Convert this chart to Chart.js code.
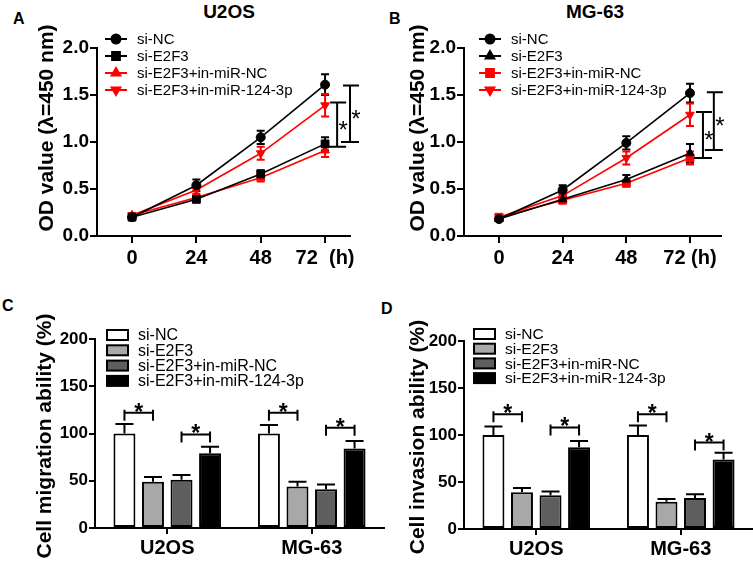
<!DOCTYPE html>
<html>
<head>
<title>E2F3 / miR-124-3p CCK-8 and transwell</title>
<script src="https://cdn.jsdelivr.net/npm/chart.js@4.4.1/dist/chart.umd.min.js"></script>
<style>
body { margin:0; background:#fff; width:753px; height:564px; position:relative; overflow:hidden; font-family:'Liberation Sans', Arial, sans-serif; }
canvas { position:absolute; }
.tag { position:absolute; font-weight:bold; font-size:16px; line-height:16px; }
.head { position:absolute; font-weight:bold; font-size:19px; line-height:19px; text-align:center; width:120px; }
</style>
</head>
<body>
<div class="tag" style="left:13px;top:11px">A</div>
<div class="tag" style="left:389px;top:11px">B</div>
<div class="tag" style="left:2px;top:298px">C</div>
<div class="tag" style="left:381px;top:301px">D</div>
<div class="head" style="left:169px;top:2px">U2OS</div>
<div class="head" style="left:535px;top:2px">MG-63</div>
<canvas id="cA" width="376" height="282" style="left:0;top:0"></canvas>
<canvas id="cB" width="377" height="282" style="left:376px;top:0"></canvas>
<canvas id="cC" width="390" height="282" style="left:0;top:282px"></canvas>
<canvas id="cD" width="377" height="282" style="left:376px;top:282px"></canvas>
<script>
// ---- data ----
var hours = [0, 24, 48, 72];
var hourTicksA = ['0', '24', '48', '72  (h)'];
var hourTicksB = ['0', '24', '48', '72 (h)'];
var groups = ['si-NC', 'si-E2F3', 'si-E2F3+in-miR-NC', 'si-E2F3+in-miR-124-3p'];
var cells = ['U2OS', 'MG-63'];

// A: U2OS OD450
var odU2osNC = [0.20, 0.54, 1.05, 1.61];
var odU2osNCErr = [0.02, 0.06, 0.07, 0.11];
var odU2osE2F3 = [0.20, 0.39, 0.66, 0.98];
var odU2osE2F3Err = [0.02, 0.03, 0.04, 0.07];
var odU2osMiNC = [0.22, 0.41, 0.62, 0.91];
var odU2osMiNCErr = [0.02, 0.03, 0.04, 0.07];
var odU2os124 = [0.22, 0.49, 0.88, 1.39];
var odU2os124Err = [0.02, 0.04, 0.07, 0.12];
var sigA = [{ x: 76.5, lo: 0.95, hi: 1.42 }, { x: 81.3, lo: 1.0, hi: 1.6 }];

// B: MG-63 OD450
var odMgNC = [0.18, 0.49, 0.99, 1.52];
var odMgNCErr = [0.02, 0.05, 0.07, 0.10];
var odMgE2F3 = [0.18, 0.39, 0.60, 0.88];
var odMgE2F3Err = [0.02, 0.03, 0.05, 0.10];
var odMgMiNC = [0.20, 0.38, 0.56, 0.83];
var odMgMiNCErr = [0.02, 0.03, 0.03, 0.07];
var odMg124 = [0.20, 0.43, 0.83, 1.29];
var odMg124Err = [0.02, 0.04, 0.07, 0.12];
var sigB = [{ x: 76.9, lo: 0.83, hi: 1.32 }, { x: 81.0, lo: 0.915, hi: 1.53 }];

// C: migration (%), per group: [U2OS, MG-63]
var migNC = [100, 100], migNCErr = [10, 9];
var migE2F3 = [49, 44], migE2F3Err = [5, 5];
var migMiNC = [51, 41], migMiNCErr = [5, 5];
var mig124 = [79, 84], mig124Err = [7, 8];
var sigC = [{ cat: 0, a: 0, b: 1, v: 122 }, { cat: 0, a: 2, b: 3, v: 99 }, { cat: 1, a: 0, b: 1, v: 122 }, { cat: 1, a: 2, b: 3, v: 106 }];

// D: invasion (%)
var invNC = [100, 100], invNCErr = [9, 10];
var invE2F3 = [39, 29], invE2F3Err = [4.5, 3];
var invMiNC = [36, 33], invMiNCErr = [4, 4];
var inv124 = [87, 74], inv124Err = [6.5, 7];
var sigD = [{ cat: 0, a: 0, b: 1, v: 122 }, { cat: 0, a: 2, b: 3, v: 108 }, { cat: 1, a: 0, b: 1, v: 122 }, { cat: 1, a: 2, b: 3, v: 92 }];

var FONT = "'Liberation Sans', Arial, sans-serif";
Chart.defaults.font.family = FONT;
Chart.defaults.color = '#000';

// error bars, axis title, legend and significance brackets
function drawErrors(chart, o) {
  var ctx = chart.ctx, ys = chart.scales.y;
  chart.data.datasets.forEach(function (ds, i) {
    var meta = chart.getDatasetMeta(i);
    ctx.save();
    ctx.strokeStyle = o.kind === 'bar' ? '#000' : ds.borderColor;
    ctx.lineWidth = 2;
    meta.data.forEach(function (el, j) {
      var raw = ds.data[j];
      var v = typeof raw === 'object' ? raw.y : raw;
      var e = ds.errors[j];
      var top = ys.getPixelForValue(v + e);
      var bot = o.kind === 'bar' ? el.y : ys.getPixelForValue(v - e);
      ctx.beginPath();
      ctx.moveTo(el.x, top); ctx.lineTo(el.x, bot);
      ctx.moveTo(el.x - o.cap, top); ctx.lineTo(el.x + o.cap, top);
      if (o.kind !== 'bar') { ctx.moveTo(el.x - o.cap, bot); ctx.lineTo(el.x + o.cap, bot); }
      ctx.stroke();
    });
    ctx.restore();
  });
}

var decor = {
  id: 'decor',
  beforeDatasetsDraw: function (chart, args, o) {
    if (o.kind === 'line') drawErrors(chart, o);
  },
  afterDatasetsDraw: function (chart, args, o) {
    if (o.kind === 'bar') drawErrors(chart, o);
  },
  afterDraw: function (chart, args, o) {
    var ctx = chart.ctx, xs = chart.scales.x, ys = chart.scales.y;
    ctx.save();
    // y title
    ctx.save();
    ctx.translate(o.titleX, o.titleY);
    ctx.rotate(-Math.PI / 2);
    ctx.textAlign = 'center';
    ctx.textBaseline = 'middle';
    ctx.font = 'bold 21px ' + FONT;
    ctx.fillStyle = '#000';
    ctx.fillText(o.title, 0, 0);
    ctx.restore();

    // legend
    ctx.font = o.legendFont + 'px ' + FONT;
    ctx.textBaseline = 'middle';
    ctx.textAlign = 'left';
    chart.data.datasets.forEach(function (ds, i) {
      var y = o.legendY + i * o.legendStep;
      if (o.kind === 'line') {
        ctx.strokeStyle = ds.borderColor;
        ctx.fillStyle = ds.borderColor;
        ctx.lineWidth = 2;
        ctx.beginPath();
        ctx.moveTo(o.legendX - 11, y); ctx.lineTo(o.legendX + 11, y);
        ctx.stroke();
        Chart.helpers.drawPoint(ctx, { pointStyle: ds.pointStyle, rotation: ds.pointRotation || 0, radius: ds.pointRadius, borderWidth: 1 }, o.legendX, y);
        ctx.fillStyle = '#000';
        ctx.fillText(ds.label, o.legendX + 21, y + 1);
      } else {
        ctx.fillStyle = ds.backgroundColor;
        ctx.strokeStyle = '#000';
        ctx.lineWidth = 2;
        ctx.fillRect(o.legendX, y - 5, 21, 10);
        ctx.strokeRect(o.legendX, y - 5, 21, 10);
        ctx.fillStyle = '#000';
        ctx.fillText(ds.label, o.legendX + 31, y + 1);
      }
    });

    // brackets
    ctx.strokeStyle = '#000';
    ctx.fillStyle = '#000';
    ctx.lineWidth = 2;
    ctx.textAlign = 'center';
    ctx.textBaseline = 'alphabetic';
    o.brackets.forEach(function (b) {
      ctx.beginPath();
      if (o.kind === 'line') {
        var px = xs.getPixelForValue(b.x);
        var y1 = ys.getPixelForValue(b.hi), y2 = ys.getPixelForValue(b.lo);
        ctx.moveTo(px, y1); ctx.lineTo(px, y2);
        ctx.moveTo(px - 7, y1); ctx.lineTo(px + 9, y1);
        ctx.moveTo(px - 9, y2); ctx.lineTo(px + 9, y2);
        ctx.stroke();
        ctx.font = '24px ' + FONT;
        ctx.fillText('*', px + 6, (y1 + y2) / 2 + 13);
      } else {
        var xa = chart.getDatasetMeta(b.a).data[b.cat].x;
        var xb = chart.getDatasetMeta(b.b).data[b.cat].x;
        var y = ys.getPixelForValue(b.v);
        ctx.moveTo(xa, y); ctx.lineTo(xb, y);
        ctx.moveTo(xa, y - 3); ctx.lineTo(xa, y + 8);
        ctx.moveTo(xb, y - 3); ctx.lineTo(xb, y + 8);
        ctx.stroke();
        ctx.font = 'bold 23px ' + FONT;
        ctx.fillText('*', (xa + xb) / 2, y + 7);
      }
    });
    ctx.restore();
  }
};

function axisBase(fontSize) {
  return {
    grid: { drawOnChartArea: false, tickLength: 7, color: '#000', lineWidth: 2 },
    border: { color: '#000', width: 2 },
    ticks: { font: { size: fontSize, weight: 'bold' }, color: '#000' }
  };
}

function lineSet(label, vals, errs, color, style, rot, r) {
  return {
    label: label,
    data: hours.map(function (h, k) { return { x: h, y: vals[k] }; }),
    errors: errs,
    borderColor: color, backgroundColor: color, borderWidth: 1.6,
    pointStyle: style, pointRotation: rot, pointRadius: r, pointHoverRadius: r,
    pointBorderWidth: 1, tension: 0, fill: false
  };
}

function makeLine(id, sets, tickText, xMin, xMax, box, sig) {
  var xa = axisBase(20), ya = axisBase(19);
  xa.type = 'linear'; xa.min = xMin; xa.max = xMax;
  xa.afterBuildTicks = function (s) { s.ticks = hours.map(function (h) { return { value: h }; }); };
  xa.afterFit = function (s) { s.height = box.xh; };
  xa.ticks.autoSkip = false; xa.ticks.maxRotation = 0; xa.ticks.padding = 3;
  xa.ticks.callback = function (v, i) { return tickText[i]; };
  ya.min = 0; ya.max = 2;
  ya.afterFit = function (s) { s.width = box.yw; };
  ya.ticks.stepSize = 0.5; ya.ticks.padding = 1;
  ya.ticks.callback = function (v) { return v.toFixed(1); };
  return new Chart(document.getElementById(id), {
    type: 'line',
    data: { datasets: sets },
    plugins: [decor],
    options: {
      responsive: false, animation: false, devicePixelRatio: 1,
      layout: { padding: { left: 0, top: box.top, right: box.right, bottom: 0 } },
      plugins: {
        legend: { display: false }, tooltip: { enabled: false },
        decor: { kind: 'line', cap: 4, title: 'OD value (\u03bb=450 nm)', titleX: box.tx, titleY: 128,
                 legendX: box.lx, legendY: 39, legendStep: 17, legendFont: 15, brackets: sig }
      },
      scales: { x: xa, y: ya }
    }
  });
}

function barSet(label, vals, errs, color) {
  return {
    label: label, data: vals, errors: errs,
    backgroundColor: color, borderColor: '#000', borderWidth: 2, borderSkipped: false,
    categoryPercentage: 0.79, barPercentage: 0.77
  };
}

function makeBar(id, sets, title, box, sig) {
  var xa = axisBase(20), ya = axisBase(17);
  xa.grid.offset = false; xa.grid.tickLength = 6;
  xa.afterFit = function (s) { s.height = box.xh; };
  xa.ticks.padding = 2;
  ya.min = 0; ya.max = 200;
  ya.afterFit = function (s) { s.width = box.yw; };
  ya.ticks.stepSize = 50; ya.ticks.padding = 1; ya.grid.tickLength = 6;
  return new Chart(document.getElementById(id), {
    type: 'bar',
    data: { labels: cells, datasets: sets },
    plugins: [decor],
    options: {
      responsive: false, animation: false, devicePixelRatio: 1,
      layout: { padding: { left: 0, top: box.top, right: box.right, bottom: 0 } },
      plugins: {
        legend: { display: false }, tooltip: { enabled: false },
        decor: { kind: 'bar', cap: 9, title: title, titleX: box.tx, titleY: box.ty,
                 legendX: box.lx, legendY: box.ly, legendStep: box.ls, legendFont: box.lf, brackets: sig }
      },
      scales: { x: xa, y: ya }
    }
  });
}

makeLine('cA', [
  lineSet(groups[0], odU2osNC, odU2osNCErr, '#000', 'circle', 0, 4.5),
  lineSet(groups[1], odU2osE2F3, odU2osE2F3Err, '#000', 'rect', 0, 5.5),
  lineSet(groups[2], odU2osMiNC, odU2osMiNCErr, '#f00', 'triangle', 0, 5),
  lineSet(groups[3], odU2os124, odU2os124Err, '#f00', 'triangle', 180, 5)
], hourTicksA, -13.06, 81.3, { top: 48, right: 26, xh: 46, yw: 97, tx: 47, lx: 116 }, sigA);

makeLine('cB', [
  lineSet(groups[0], odMgNC, odMgNCErr, '#000', 'circle', 0, 4.5),
  lineSet(groups[1], odMgE2F3, odMgE2F3Err, '#000', 'triangle', 0, 5),
  lineSet(groups[2], odMgMiNC, odMgMiNCErr, '#f00', 'rect', 0, 5.5),
  lineSet(groups[3], odMg124, odMg124Err, '#f00', 'triangle', 180, 5)
], hourTicksB, -13.2, 83.7, { top: 48, right: 32, xh: 46, yw: 88, tx: 42, lx: 114 }, sigB);

makeBar('cC', [
  barSet(groups[0], migNC, migNCErr, '#ffffff'),
  barSet(groups[1], migE2F3, migE2F3Err, '#a8a8a8'),
  barSet(groups[2], migMiNC, migMiNCErr, '#5e5e5e'),
  barSet(groups[3], mig124, mig124Err, '#000000')
], 'Cell migration ability (%)',
  { top: 57, right: 6, xh: 36, yw: 95, tx: 45, ty: 154, lx: 107, ly: 53, ls: 15.3, lf: 16 }, sigC);

makeBar('cD', [
  barSet(groups[0], invNC, invNCErr, '#ffffff'),
  barSet(groups[1], invE2F3, invE2F3Err, '#a8a8a8'),
  barSet(groups[2], invMiNC, invMiNCErr, '#5e5e5e'),
  barSet(groups[3], inv124, inv124Err, '#000000')
], 'Cell invasion ability (%)',
  { top: 59, right: 0, xh: 35, yw: 88, tx: 42, ty: 155, lx: 98, ly: 52, ls: 14.7, lf: 15.5 }, sigD);
</script>
</body>
</html>
